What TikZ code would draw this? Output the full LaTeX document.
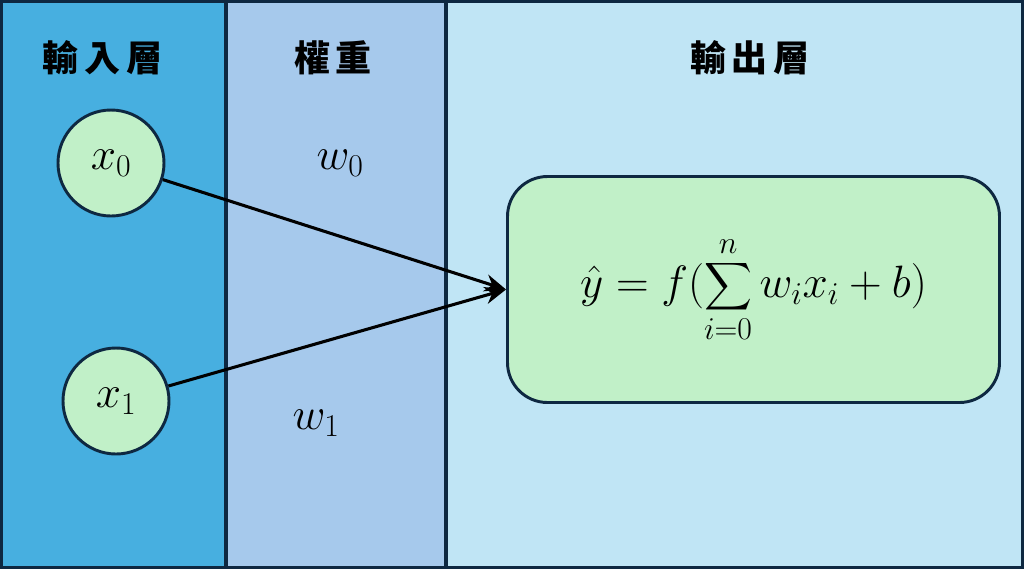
\RequirePackage{fix-cm}
\documentclass[tikz,border=0pt]{standalone}
\usepackage{fontspec}
\usepackage{amsmath}
\usetikzlibrary{arrows.meta}
\newfontfamily\cjk{Noto Sans CJK TC}
\definecolor{navy}{HTML}{0E2841}
\definecolor{inblue}{HTML}{47AFE0}
\definecolor{wblue}{HTML}{A6C9EC}
\definecolor{outblue}{HTML}{C0E5F5}
\definecolor{nodegreen}{HTML}{C1F0C8}
\begin{document}
\begin{tikzpicture}[x=0.75pt,y=-0.75pt,
  panel/.style={draw=navy,line width=2.4pt},
  heading/.style={font=\cjk\bfseries\fontsize{27}{30}\selectfont,inner sep=0pt},
  innode/.style={circle,draw=navy,fill=nodegreen,line width=2.2pt,minimum size=106*0.75pt,inner sep=0pt,font=\fontsize{34}{36}\selectfont},
  outbox/.style={rounded corners=30pt,draw=navy,fill=nodegreen,line width=2.2pt,minimum width=492*0.75pt,minimum height=226*0.75pt,inner sep=0pt,font=\fontsize{34}{36}\selectfont},
  wlabel/.style={inner sep=0pt,font=\fontsize{34}{36}\selectfont},
  conn/.style={line width=2.3pt,-{Stealth[length=16pt,width=13pt]}}]
\useasboundingbox (0,0) rectangle (1024,569);
\fill[inblue] (1.5,1.5) rectangle (226,567.5);
\fill[wblue] (226,1.5) rectangle (446,567.5);
\fill[outblue] (446,1.5) rectangle (1022.5,567.5);
\draw[panel] (1.5,1.5) rectangle (226,567.5);
\draw[panel] (226,1.5) rectangle (446,567.5);
\draw[panel] (446,1.5) rectangle (1022.5,567.5);
\node[heading] (h1) at (103,58) {輸\,入\,層};
\node[heading] (h2) at (333,58) {權\,重};
\node[heading] (h3) at (750,58) {輸\,出\,層};
\node[innode] (x0) at (111,163) {$x_0$};
\node[innode] (x1) at (116,401) {$x_1$};
\node[outbox] (f) at (753.5,289.5) {$\displaystyle \hat{y} = f(\sum_{i=0}^{n} w_i x_i + b)$};
\node[wlabel] (w0) at (340,163) {$w_0$};
\node[wlabel] (w1) at (316,423) {$w_1$};
\draw[conn] (x0) -- (f.west);
\draw[conn] (x1) -- (f.west);
\end{tikzpicture}
\end{document}
